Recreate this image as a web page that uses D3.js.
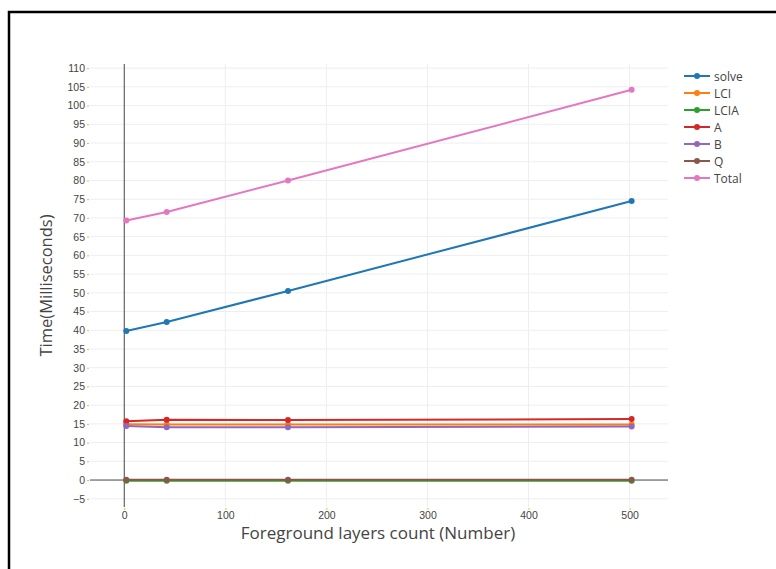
<!DOCTYPE html>
<html>
<head>
<meta charset="utf-8">
<script src="https://cdn.jsdelivr.net/npm/d3@7"></script>
<style>
  html, body { margin: 0; padding: 0; background: #fff; }
  svg { display: block; font-family: "Open Sans", "DejaVu Sans", sans-serif; }
</style>
</head>
<body>
<svg id="chart" width="776" height="569"></svg>
<script>
// Layer counts on the x axis
const layers = [2, 42, 162, 502];

// Timings per stage, milliseconds
const seriesNames = ["solve", "LCI", "LCIA", "A", "B", "Q", "Total"];
const solve = [39.8, 42.2, 50.5, 74.5];
const lci   = [14.9, 14.8, 14.8, 14.8];
const lcia  = [-0.2, -0.2, -0.2, -0.2];
const aVals = [15.7, 16.1, 16.0, 16.3];
const bVals = [14.4, 14.1, 14.1, 14.3];
const qVals = [0.1, 0.1, 0.1, 0.1];
const total = [69.3, 71.6, 80.0, 104.2];
const seriesValues = [solve, lci, lcia, aVals, bVals, qVals, total];
const colors = ["#1f77b4", "#ff7f0e", "#2ca02c", "#d62728", "#9467bd", "#8c564b", "#e377c2"];

const yTicks = d3.range(-5, 111, 5);
const xTicks = [0, 100, 200, 300, 400, 500];

const svg = d3.select("#chart");

// Outer frame
svg.append("rect")
  .attr("x", 9).attr("y", 12)
  .attr("width", 820).attr("height", 620)
  .attr("fill", "none").attr("stroke", "#000").attr("stroke-width", 2.5);

const plot = { left: 90, right: 668, top: 64, bottom: 507 };

const x = d3.scaleLinear().domain([-33.9, 538]).range([plot.left, plot.right]);
const y = d3.scaleLinear().domain([-7.2, 111.1]).range([plot.bottom, plot.top]);

// Grid lines
const grid = svg.append("g");
grid.selectAll(".gy").data(yTicks.filter(d => d !== 0)).join("line")
  .attr("x1", plot.left).attr("x2", plot.right)
  .attr("y1", d => y(d)).attr("y2", d => y(d))
  .attr("stroke", "#eee").attr("stroke-width", 1);
grid.selectAll(".gx").data(xTicks.filter(d => d !== 0)).join("line")
  .attr("y1", plot.top).attr("y2", plot.bottom)
  .attr("x1", d => x(d)).attr("x2", d => x(d))
  .attr("stroke", "#eee").attr("stroke-width", 1);

// Zero lines
svg.append("line")
  .attr("x1", plot.left).attr("x2", plot.right)
  .attr("y1", y(0)).attr("y2", y(0))
  .attr("stroke", "#444").attr("stroke-width", 1);
svg.append("line")
  .attr("x1", x(0)).attr("x2", x(0))
  .attr("y1", plot.top).attr("y2", plot.bottom)
  .attr("stroke", "#444").attr("stroke-width", 1);

// Y axis
const yAxis = d3.axisLeft(y).tickValues(yTicks).tickSize(2).tickPadding(2)
  .tickFormat(d => d < 0 ? "\u2212" + Math.abs(d) : d);
const yg = svg.append("g").attr("transform", `translate(${plot.left - 1},0)`).call(yAxis);
yg.select(".domain").remove();
yg.selectAll(".tick line").attr("stroke", "#f7b731");
yg.selectAll(".tick text").attr("fill", "#444").attr("font-size", 10.5);

// X axis
const xAxis = d3.axisBottom(x).tickValues(xTicks).tickSize(2).tickPadding(2);
const xg = svg.append("g").attr("transform", `translate(0,${plot.bottom + 1})`).call(xAxis);
xg.select(".domain").remove();
xg.selectAll(".tick line").attr("stroke", "#f7b731");
xg.selectAll(".tick text").attr("fill", "#444").attr("font-size", 10.5);

// Axis titles
svg.append("text")
  .attr("x", (plot.left + plot.right) / 2 - 1).attr("y", 539)
  .attr("text-anchor", "middle").attr("fill", "#444").attr("font-size", 17)
  .text("Foreground layers count (Number)");
svg.append("text")
  .attr("transform", `translate(52,${(plot.top + plot.bottom) / 2}) rotate(-90)`)
  .attr("text-anchor", "middle").attr("fill", "#444").attr("font-size", 16.5)
  .text("Time(Milliseconds)");

// Series lines and markers
const line = d3.line().x((d, i) => x(layers[i])).y(d => y(d));
seriesNames.forEach((name, si) => {
  const g = svg.append("g");
  g.append("path").datum(seriesValues[si])
    .attr("d", line).attr("fill", "none")
    .attr("stroke", colors[si]).attr("stroke-width", 2);
  g.selectAll("circle").data(seriesValues[si]).join("circle")
    .attr("cx", (d, i) => x(layers[i])).attr("cy", d => y(d))
    .attr("r", 3).attr("fill", colors[si]);
});

// Legend
const legend = svg.append("g").attr("transform", "translate(684,76)");
seriesNames.forEach((name, i) => {
  const row = legend.append("g").attr("transform", `translate(0,${i * 17})`);
  row.append("line").attr("x1", 0).attr("x2", 26).attr("y1", 0).attr("y2", 0)
    .attr("stroke", colors[i]).attr("stroke-width", 2);
  row.append("circle").attr("cx", 13).attr("cy", 0).attr("r", 3).attr("fill", colors[i]);
  row.append("text").attr("x", 30).attr("y", 4.5).attr("fill", "#444")
    .attr("font-size", 12).text(name);
});
</script>
</body>
</html>
